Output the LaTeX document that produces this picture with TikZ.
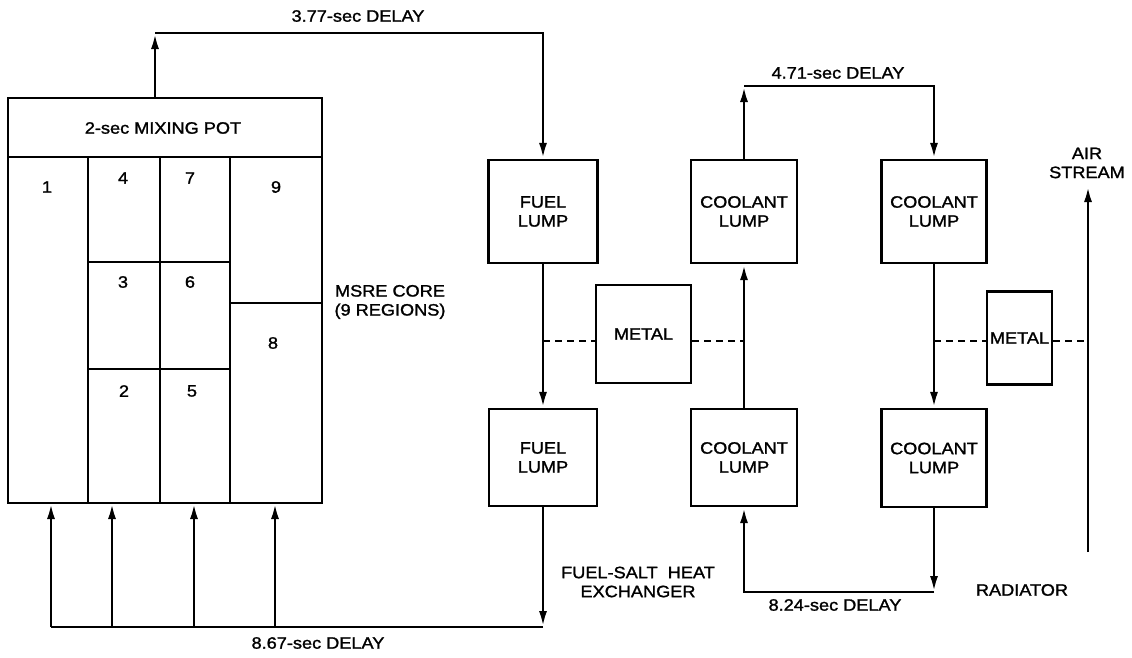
\documentclass[tikz,border=0pt]{standalone}
\usepackage{fontspec}
\setmainfont{Liberation Sans}[FakeStretch=1.1,FakeBold=1.4]
\usetikzlibrary{arrows.meta,calc}
\newcommand{\lblfont}{\fontsize{16.5}{19}\selectfont}
\begin{document}
\begin{tikzpicture}[x=1pt,y=-1pt,
  lumpbox/.style={draw, line width=2.2pt, align=center, font=\lblfont, inner sep=0pt},
  txt/.style={font=\lblfont, align=center, inner sep=0pt},
  flow/.style={line width=2.8pt, -{Latex[length=16pt,width=8pt]}},
  pipe/.style={line width=2.8pt},
  thin/.style={line width=2.2pt},
  tie/.style={line width=2pt, dash pattern=on 7pt off 5pt}]
\useasboundingbox (0,0) rectangle (1132,657);

% core
\node[draw, line width=2.2pt, minimum width=314pt, minimum height=405pt, inner sep=0pt] (core) at (165,300.5) {};
\draw[thin] (8,157) -- (322,157);
\node[txt] (pot) at (163,128) {2-sec MIXING POT};
\draw[thin] (88,157) -- (88,503);
\draw[thin] (160,157) -- (160,503);
\draw[thin] (230,157) -- (230,503);
\draw[thin] (88,262) -- (230,262);
\draw[thin] (230,303) -- (322,303);
\draw[thin] (88,369) -- (230,369);
\node[txt] (r1) at (47,187) {1};
\node[txt] (r4) at (123,178) {4};
\node[txt] (r7) at (190,178) {7};
\node[txt] (r9) at (276,187) {9};
\node[txt] (r3) at (123,282) {3};
\node[txt] (r6) at (190,282) {6};
\node[txt] (r8) at (273,343) {8};
\node[txt] (r2) at (124,391) {2};
\node[txt] (r5) at (192,391) {5};
\node[txt] (corelbl) at (390,302) {MSRE CORE\\(9 REGIONS)};

% heat exchanger
\node[lumpbox, minimum width=109pt, minimum height=103pt] (f1) at (543,211.5) {FUEL\\LUMP};
\node[lumpbox, minimum width=108pt, minimum height=97pt] (f2) at (543,457.5) {FUEL\\LUMP};
\node[lumpbox, minimum width=106pt, minimum height=103pt] (c1) at (744,211.5) {COOLANT\\LUMP};
\node[lumpbox, minimum width=106pt, minimum height=97pt] (c2) at (744,457.5) {COOLANT\\LUMP};
\node[lumpbox, minimum width=95pt, minimum height=98pt] (m1) at (643.5,334) {METAL};
\node[txt] (hxlbl) at (638,582) {FUEL-SALT\ \ HEAT\\EXCHANGER};

% radiator
\node[lumpbox, minimum width=105pt, minimum height=103pt] (c3) at (934,211.5) {COOLANT\\LUMP};
\node[lumpbox, minimum width=105pt, minimum height=98pt] (c4) at (934,458) {COOLANT\\LUMP};
\node[lumpbox, minimum width=65pt, minimum height=93pt] (m2) at (1019.5,338) {METAL};
\node[txt] (radlbl) at (1022,590) {RADIATOR};
\node[txt] (airlbl) at (1087,163) {AIR\\STREAM};

% delay labels
\node[txt] (d377) at (358,16) {3.77-sec DELAY};
\node[txt] (d471) at (838,73) {4.71-sec DELAY};
\node[txt] (d824) at (835,605) {8.24-sec DELAY};
\node[txt] (d867) at (318,643) {8.67-sec DELAY};

% coordinates
\coordinate (tl) at (155,33);
\coordinate (tr) at (543,33);
\coordinate (bl) at (51,627);
\coordinate (br) at (543,627);
\coordinate (ctl) at (744,86);
\coordinate (ctr) at (934,86);
\coordinate (cbl) at (744,592);
\coordinate (cbr) at (934,592);
\coordinate (air0) at (1088,552);
\coordinate (air1) at (1088,186);
\coordinate (dj1) at (543,341);
\coordinate (dj2) at (934,341);

% fuel loop
\draw[flow] (core.north -| tl) -- (tl);
\draw[flow] (tl) -- (tr) -- (f1.north);
\draw[flow] (f1.south) -- (f2.north);
\draw[flow] (f2.south) -- (br);
\draw[pipe] (br) -- (bl);
\foreach \x in {51,112,194,275} {
  \draw[flow] (\x,627) -- (\x,503);
}

% coolant loop
\draw[flow] (c2.north) -- (c1.south);
\draw[flow] (c1.north) -- (ctl);
\draw[flow] (ctl) -- (ctr) -- (c3.north);
\draw[flow] (c3.south) -- (c4.north);
\draw[flow] (c4.south) -- (cbr);
\draw[flow] (cbr) -- (cbl) -- (c2.south);

% air stream
\draw[flow] (air0) -- (air1);

% thermal ties
\draw[tie] (dj1) -- (dj1 -| m1.west);
\draw[tie] (m1.east |- dj1) -- (dj1 -| c1.south);
\draw[tie] (dj2) -- (dj2 -| m2.west);
\draw[tie] (m2.east |- dj2) -- (dj2 -| air0);
\end{tikzpicture}
\end{document}
